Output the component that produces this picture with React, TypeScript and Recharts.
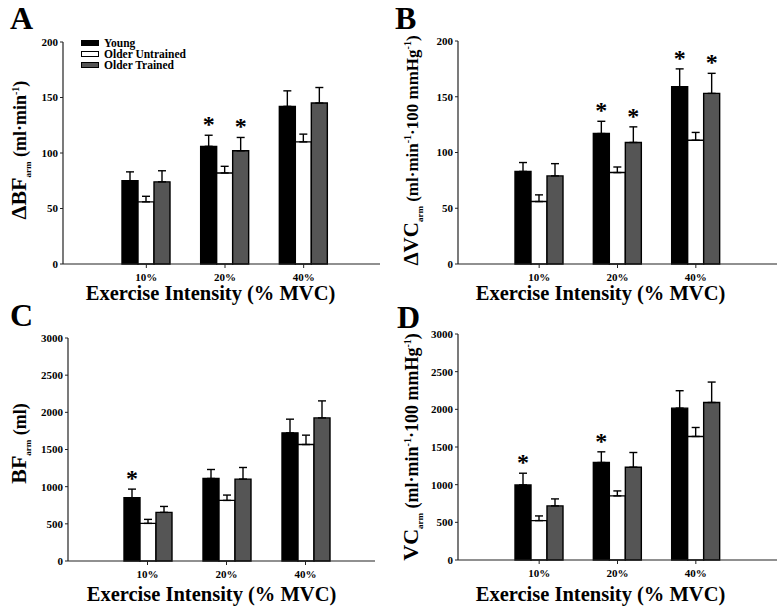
import React from "react";
import { Bar, BarChart, ErrorBar, LabelList, Legend, XAxis, YAxis } from "recharts";

const FONT = '"Liberation Serif", "Times New Roman", serif';

const categories = ["10%", "20%", "40%"];

// A: ΔBF arm (ml·min-1)
const dBfYoung = [75, 106, 142];
const dBfYoungErr = [8, 10, 14];
const dBfUntrained = [56, 82, 110];
const dBfUntrainedErr = [5, 6, 7];
const dBfTrained = [74, 102, 145];
const dBfTrainedErr = [10, 12, 14];
const dBfStarYoung = [false, true, false];
const dBfStarTrained = [false, true, false];

// B: ΔVC arm
const dVcYoung = [83, 117, 159];
const dVcYoungErr = [8, 11, 16];
const dVcUntrained = [56, 82, 111];
const dVcUntrainedErr = [6, 5, 7];
const dVcTrained = [79, 109, 153];
const dVcTrainedErr = [11, 14, 18];
const dVcStarYoung = [false, true, true];
const dVcStarTrained = [false, true, true];

// C: BF arm (ml)
const bfYoung = [851, 1110, 1724];
const bfYoungErr = [116, 121, 184];
const bfUntrained = [506, 815, 1567];
const bfUntrainedErr = [54, 72, 126];
const bfTrained = [654, 1102, 1925];
const bfTrainedErr = [80, 156, 229];
const bfStarYoung = [true, false, false];
const bfStarTrained = [false, false, false];

// D: VC arm
const vcYoung = [997, 1294, 2016];
const vcYoungErr = [155, 142, 231];
const vcUntrained = [523, 851, 1640];
const vcUntrainedErr = [62, 66, 119];
const vcTrained = [718, 1232, 2091];
const vcTrainedErr = [93, 195, 271];
const vcStarYoung = [true, true, false];
const vcStarTrained = [false, false, false];

const smallTicks = [0, 50, 100, 150, 200];
const bigTicks = [0, 500, 1000, 1500, 2000, 2500, 3000];

const series = [
  { key: "young", name: "Young", fill: "#000000" },
  { key: "untrained", name: "Older Untrained", fill: "#ffffff" },
  { key: "trained", name: "Older Trained", fill: "#555555" },
];

type Row = Record<string, any>;

function buildRows(
  y: number[], ye: number[], u: number[], ue: number[], t: number[], te: number[],
  sy: boolean[], st: boolean[]
): Row[] {
  return categories.map((c, i) => ({
    name: c,
    young: y[i], youngErr: [0, ye[i]], youngE: ye[i], youngStar: sy[i],
    untrained: u[i], untrainedErr: [0, ue[i]], untrainedE: ue[i], untrainedStar: false,
    trained: t[i], trainedErr: [0, te[i]], trainedE: te[i], trainedStar: st[i],
  }));
}

const rowsA = buildRows(dBfYoung, dBfYoungErr, dBfUntrained, dBfUntrainedErr, dBfTrained, dBfTrainedErr, dBfStarYoung, dBfStarTrained);
const rowsB = buildRows(dVcYoung, dVcYoungErr, dVcUntrained, dVcUntrainedErr, dVcTrained, dVcTrainedErr, dVcStarYoung, dVcStarTrained);
const rowsC = buildRows(bfYoung, bfYoungErr, bfUntrained, bfUntrainedErr, bfTrained, bfTrainedErr, bfStarYoung, bfStarTrained);
const rowsD = buildRows(vcYoung, vcYoungErr, vcUntrained, vcUntrainedErr, vcTrained, vcTrainedErr, vcStarYoung, vcStarTrained);

type Seg = { text: string; size: number; shift?: number };

const labelA: Seg[] = [
  { text: "ΔBF", size: 22 },
  { text: "arm", size: 9, shift: 5 },
  { text: " (ml·min", size: 18, shift: -5 },
  { text: "-1", size: 10, shift: -7 },
  { text: ")", size: 18, shift: 7 },
];
const labelB: Seg[] = [
  { text: "ΔVC", size: 21 },
  { text: "arm", size: 9, shift: 5 },
  { text: " (ml·min", size: 17, shift: -5 },
  { text: "-1", size: 10, shift: -7 },
  { text: "·100 mmHg", size: 17, shift: 7 },
  { text: "-1", size: 10, shift: -7 },
  { text: ")", size: 17, shift: 7 },
];
const labelC: Seg[] = [
  { text: "BF", size: 22 },
  { text: "arm", size: 9, shift: 5 },
  { text: " (ml)", size: 18, shift: -5 },
];
const labelD: Seg[] = [
  { text: "VC", size: 22 },
  { text: "arm", size: 9, shift: 5 },
  { text: " (ml·min", size: 18, shift: -5 },
  { text: "-1", size: 10, shift: -7 },
  { text: "·100 mmHg", size: 18, shift: 7 },
  { text: "-1", size: 10, shift: -7 },
  { text: ")", size: 18, shift: 7 },
];

function YLabel(props: any) {
  const vb = props.viewBox || {};
  const bx = vb.x + props.bx;
  const cy = vb.y + vb.height / 2 + (props.dy || 0);
  return (
    <text
      x={bx}
      y={cy}
      transform={`rotate(-90 ${bx} ${cy})`}
      textAnchor="middle"
      fontFamily={FONT}
      fontWeight={700}
      fill="#000"
    >
      {props.segs.map((s: Seg, i: number) => (
        <tspan key={i} fontSize={s.size} dy={s.shift || 0}>
          {s.text}
        </tspan>
      ))}
    </text>
  );
}

function XLabel(props: any) {
  const vb = props.viewBox || {};
  return (
    <text
      x={vb.x + vb.width / 2 + props.dx}
      y={vb.y + props.dy}
      textAnchor="middle"
      fontFamily={FONT}
      fontWeight={700}
      fontSize={20.5}
      fill="#000"
    >
      Exercise Intensity (% MVC)
    </text>
  );
}

function renderStar(p: any, rows: Row[], key: string) {
  const idx = p.index;
  const row = rows[idx];
  if (!row || !row[key + "Star"]) return null;
  const vb = p.viewBox || p;
  const x = vb.x ?? p.x;
  const y = vb.y ?? p.y;
  const w = vb.width ?? p.width;
  const h = vb.height ?? p.height;
  const perUnit = h / row[key];
  const errTop = y - row[key + "E"] * perUnit;
  return (
    <text
      x={x + w / 2}
      y={errTop - 3}
      textAnchor="middle"
      fontFamily={FONT}
      fontWeight={700}
      fontSize={24}
      fill="#000"
    >
      *
    </text>
  );
}

function LegendBox() {
  return (
    <div style={{ fontFamily: FONT, fontWeight: 700, fontSize: 11.5, lineHeight: "10.8px", color: "#000" }}>
      {series.map((s) => (
        <div key={s.key} style={{ display: "flex", alignItems: "center", whiteSpace: "nowrap" }}>
          <span
            style={{
              display: "inline-block",
              width: 16,
              height: 4,
              background: s.fill,
              border: "1px solid #000",
              marginRight: 5,
            }}
          />
          {s.name}
        </div>
      ))}
    </div>
  );
}

type PanelProps = {
  left: number;
  top: number;
  width: number;
  height: number;
  margin: { top: number; right: number; left: number; bottom: number };
  yWidth: number;
  xHeight: number;
  pad: { left: number; right: number };
  max: number;
  ticks: number[];
  rows: Row[];
  segs: Seg[];
  labelBx: number;
  labelDy: number;
  xdx: number;
  xdy: number;
  legend?: boolean;
};

function Panel(p: PanelProps) {
  return (
    <div style={{ position: "absolute", left: p.left, top: p.top }}>
      <BarChart
        width={p.width}
        height={p.height}
        data={p.rows}
        margin={p.margin}
        barGap={0}
        barSize={16}
      >
        <XAxis
          dataKey="name"
          height={p.xHeight}
          padding={p.pad}
          tickLine={{ stroke: "#222" }}
          axisLine={{ stroke: "#222", strokeWidth: 1.2 }}
          tickSize={4}
          tickMargin={5}
          tick={{ fill: "#000", fontSize: 11, fontWeight: 700, fontFamily: FONT }}
          label={<XLabel dx={p.xdx} dy={p.xdy} />}
        />
        <YAxis
          width={p.yWidth}
          domain={[0, p.max]}
          ticks={p.ticks}
          interval={0}
          tickLine={{ stroke: "#222" }}
          axisLine={{ stroke: "#222", strokeWidth: 1.2 }}
          tickSize={3}
          tickMargin={2}
          tick={{ fill: "#000", fontSize: 11, fontWeight: 700, fontFamily: FONT }}
          label={<YLabel segs={p.segs} bx={p.labelBx} dy={p.labelDy} />}
        />
        {p.legend && (
          <Legend
            layout="vertical"
            align="center"
            verticalAlign="middle"
            wrapperStyle={{ left: 81, top: 38, width: "auto" }}
            content={() => <LegendBox />}
          />
        )}
        {series.map((s) => (
          <Bar
            key={s.key}
            dataKey={s.key}
            name={s.name}
            fill={s.fill}
            stroke="#000"
            strokeWidth={1.4}
            isAnimationActive={false}
          >
            <ErrorBar dataKey={s.key + "Err"} width={4} stroke="#000" strokeWidth={1.4} direction="y" />
            <LabelList dataKey={s.key} content={(lp: any) => renderStar(lp, p.rows, s.key)} />
          </Bar>
        ))}
      </BarChart>
    </div>
  );
}

export default function App() {
  return (
    <div
      style={{
        position: "absolute",
        left: 0,
        top: 0,
        width: 780,
        height: 607,
        background: "#fff",
        fontFamily: FONT,
      }}
    >
      <Panel
        left={0}
        top={0}
        width={390}
        height={308}
        margin={{ top: 42, right: 10, left: 0, bottom: 0 }}
        yWidth={63}
        xHeight={44}
        pad={{ left: 44, right: 37 }}
        max={200}
        ticks={smallTicks}
        rows={rowsA}
        segs={labelA}
        labelBx={26}
        labelDy={-3}
        xdx={-11}
        xdy={36}
        legend
      />
      <Panel
        left={390}
        top={0}
        width={390}
        height={308}
        margin={{ top: 41, right: 3, left: 0, bottom: 0 }}
        yWidth={68}
        xHeight={44}
        pad={{ left: 42, right: 42 }}
        max={200}
        ticks={smallTicks}
        rows={rowsB}
        segs={labelB}
        labelBx={28}
        labelDy={-2}
        xdx={-17}
        xdy={36}
      />
      <Panel
        left={0}
        top={303}
        width={390}
        height={304}
        margin={{ top: 35, right: 15, left: 0, bottom: 0 }}
        yWidth={68}
        xHeight={46}
        pad={{ left: 40, right: 30 }}
        max={3000}
        ticks={bigTicks}
        rows={rowsC}
        segs={labelC}
        labelBx={26}
        labelDy={-6}
        xdx={-10}
        xdy={40}
      />
      <Panel
        left={390}
        top={303}
        width={390}
        height={304}
        margin={{ top: 31, right: 3, left: 0, bottom: 0 }}
        yWidth={68}
        xHeight={47}
        pad={{ left: 42, right: 42 }}
        max={3000}
        ticks={bigTicks}
        rows={rowsD}
        segs={labelD}
        labelBx={28}
        labelDy={0}
        xdx={-17}
        xdy={41}
      />
      <svg
        width={780}
        height={607}
        style={{ position: "absolute", left: 0, top: 0, pointerEvents: "none" }}
      >
        <g fontFamily={FONT} fontWeight={700} fontSize={32} fill="#000">
          <text x={10} y={29}>A</text>
          <text x={395} y={29}>B</text>
          <text x={10} y={326}>C</text>
          <text x={397} y={328}>D</text>
        </g>
      </svg>
    </div>
  );
}
